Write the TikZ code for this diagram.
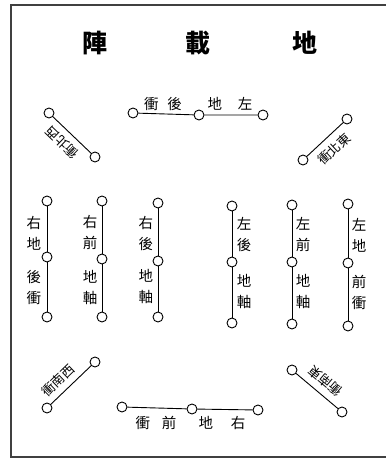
\documentclass[tikz,border=0pt]{standalone}
\usepackage{fontspec}
\newfontfamily\zh{Noto Sans CJK TC}
\usetikzlibrary{positioning}

\begin{document}
\begin{tikzpicture}[x=1pt, y=1pt,
    ring/.style={draw, circle, minimum size=10pt, inner sep=0pt, line width=0.9pt, fill=white},
    bar/.style={line width=0.9pt},
    tag/.style={font=\zh\fontsize{14.5}{21}\selectfont, inner sep=0pt, align=center},
    slant/.style={font=\zh\fontsize{13}{13}\selectfont, inner sep=0pt},
    head/.style={font=\zh\bfseries\fontsize{25}{25}\selectfont, inner sep=0pt}
]
    \useasboundingbox (0,0) rectangle (386,459);
    \draw[line width=1.2pt, black!75] (386,454) -- (11,454) -- (11,2) -- (386,2);

    % title
    \node[head] (t1) at (95,416) {陣};
    \node[head] (t2) at (198,416) {載};
    \node[head] (t3) at (305,416) {地};

    % rear line
    \node[ring] (r1) at (133,346) {};
    \node[ring] (r2) at (199,344) {};
    \node[ring] (r3) at (263,344) {};
    \draw[bar] (r1) -- (r2) -- (r3);
    \node[tag] (rl) at (163,355) {衝\hspace{9pt}後};
    \node[tag] (rr) at (230,355) {地\hspace{16pt}左};

    % front line
    \node[ring] (f1) at (122,52) {};
    \node[ring] (f2) at (192,50) {};
    \node[ring] (f3) at (258,49) {};
    \draw[bar] (f1) -- (f2) -- (f3);
    \node[tag] (fl) at (156,36) {衝\hspace{12pt}前};
    \node[tag] (fr) at (222,36) {地\hspace{18pt}右};

    % corners
    \node[ring] (nw1) at (49,346) {};
    \node[ring] (nw2) at (95,302) {};
    \draw[bar] (nw1) -- (nw2);
    \node[slant, rotate=136] (nwl) at (62,316) {衝北西};

    \node[ring] (ne1) at (303,299) {};
    \node[ring] (ne2) at (347,340) {};
    \draw[bar] (ne1) -- (ne2);
    \node[slant, rotate=43] (nel) at (334,310) {衝北東};

    \node[ring] (sw1) at (47,51) {};
    \node[ring] (sw2) at (95,97) {};
    \draw[bar] (sw1) -- (sw2);
    \node[slant, rotate=44] (swl) at (58,79) {衝南西};

    \node[ring] (se1) at (292,89) {};
    \node[ring] (se2) at (342,47) {};
    \draw[bar] (se1) -- (se2);
    \node[slant, rotate=140] (sel) at (325,78) {衝南東};

    % right wing
    \node[ring] (a1) at (47,258) {};
    \node[ring] (a2) at (47,202) {};
    \node[ring] (a3) at (47,142) {};
    \draw[bar] (a1) -- (a2) -- (a3);
    \node[tag] (al1) at (34,226) {右\\地};
    \node[tag] (al2) at (34,172) {後\\衝};

    \node[ring] (b1) at (102,258) {};
    \node[ring] (b2) at (102,200) {};
    \node[ring] (b3) at (102,142) {};
    \draw[bar] (b1) -- (b2) -- (b3);
    \node[tag] (bl1) at (90,226) {右\\前};
    \node[tag] (bl2) at (90,172) {地\\軸};

    \node[ring] (c1) at (158,256) {};
    \node[ring] (c2) at (158,198) {};
    \node[ring] (c3) at (158,142) {};
    \draw[bar] (c1) -- (c2) -- (c3);
    \node[tag] (cl1) at (146,225) {右\\後};
    \node[tag] (cl2) at (146,173) {地\\軸};

    % left wing
    \node[ring] (d1) at (232,253) {};
    \node[ring] (d2) at (232,197) {};
    \node[ring] (d3) at (232,136) {};
    \draw[bar] (d1) -- (d2) -- (d3);
    \node[tag] (dl1) at (244,224) {左\\後};
    \node[tag] (dl2) at (244,168) {地\\軸};

    \node[ring] (e1) at (292,254) {};
    \node[ring] (e2) at (292,197) {};
    \node[ring] (e3) at (292,135) {};
    \draw[bar] (e1) -- (e2) -- (e3);
    \node[tag] (el1) at (303,224) {左\\前};
    \node[tag] (el2) at (303,168) {地\\軸};

    \node[ring] (g1) at (348,255) {};
    \node[ring] (g2) at (348,196) {};
    \node[ring] (g3) at (348,133) {};
    \draw[bar] (g1) -- (g2) -- (g3);
    \node[tag] (gl1) at (359,224) {左\\地};
    \node[tag] (gl2) at (359,167) {前\\衝};
\end{tikzpicture}
\end{document}
